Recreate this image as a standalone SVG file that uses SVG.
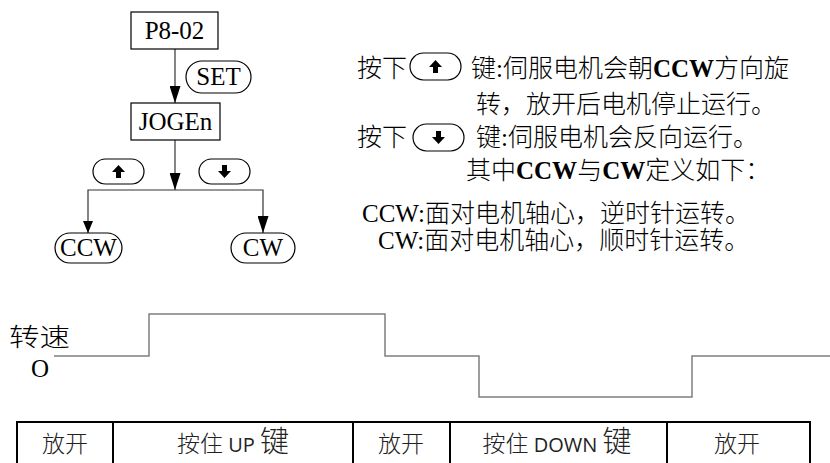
<svg xmlns="http://www.w3.org/2000/svg" width="830" height="463" viewBox="0 0 830 463">
<defs>
<style>
.box{fill:#fff;stroke:#000;stroke-width:1.2}
.pill{fill:#fff;stroke:#000;stroke-width:1.2}
.lbl{font-family:"Liberation Serif","Times New Roman",serif;font-size:25px;fill:#000;text-anchor:middle}
.conn{fill:none;stroke:#333;stroke-width:1.2}
.txt{font-family:"Liberation Serif","Noto Sans CJK SC",serif;font-size:25px;fill:#000;font-weight:300}
.b{font-weight:bold}
.wave{fill:none;stroke:#7f7f7f;stroke-width:1.5}
.tbl{fill:none;stroke:#000;stroke-width:2}
.cell{font-family:"Noto Sans CJK SC",sans-serif;font-size:23px;fill:#222;text-anchor:middle;font-weight:300}
.key{font-size:29px}
.lat{font-family:"Open Sans","Noto Sans",sans-serif;font-size:20px;font-weight:400}
.icon{fill:#000}
</style>
<marker id="ah" markerUnits="userSpaceOnUse" viewBox="0 0 17 11" markerWidth="17" markerHeight="11" refX="17" refY="5.5" orient="auto">
<path d="M0,0 L17,5.5 L0,11 Z" fill="#000"/>
</marker>
<marker id="ahs" markerUnits="userSpaceOnUse" viewBox="0 0 12 10" markerWidth="12" markerHeight="10" refX="12" refY="5" orient="auto">
<path d="M0,0 L12,5 L0,10 Z" fill="#000"/>
</marker>
<path id="up" class="icon" d="M0,-6.5 L6.5,0.5 L2.5,0.5 L2.5,6.5 L-2.5,6.5 L-2.5,0.5 L-6.5,0.5 Z"/>
<path id="down" class="icon" d="M0,6.5 L6.5,-0.5 L2.5,-0.5 L2.5,-6.5 L-2.5,-6.5 L-2.5,-0.5 L-6.5,-0.5 Z"/>
</defs>
<rect width="830" height="463" fill="#fff"/>

<g id="connectors">
<path class="conn" d="M175,49 V103" marker-end="url(#ah)"/>
<path class="conn" d="M175,140 V190" marker-end="url(#ah)"/>
<path class="conn" d="M175,190 H88 V233" marker-end="url(#ahs)"/>
<path class="conn" d="M175,190 H263 V233" marker-end="url(#ah)"/>
</g>

<g id="node-p802">
<rect class="box" x="131" y="12" width="87" height="37"/>
<text class="lbl" x="174.5" y="39">P8-02</text>
</g>
<g id="node-set">
<rect class="pill" x="186" y="61" width="65" height="32" rx="16"/>
<text class="lbl" x="218.5" y="85">SET</text>
</g>
<g id="node-jogen">
<rect class="box" x="131" y="103" width="89" height="37"/>
<text class="lbl" x="175.5" y="130">JOGEn</text>
</g>
<g id="node-upkey">
<rect class="pill" x="93" y="159" width="51" height="25" rx="12.5"/>
<use href="#up" x="118.5" y="171.5"/>
</g>
<g id="node-downkey">
<rect class="pill" x="199" y="159" width="51" height="25" rx="12.5"/>
<use href="#down" x="224.5" y="171.5"/>
</g>
<g id="node-ccw">
<rect class="pill" x="55" y="233" width="67" height="30" rx="15"/>
<text class="lbl" x="88.5" y="256">CCW</text>
</g>
<g id="node-cw">
<rect class="pill" x="231" y="233" width="64" height="30" rx="15"/>
<text class="lbl" x="263" y="256">CW</text>
</g>

<g id="description">
<text class="txt" x="357" y="77">按下</text>
<rect class="pill" x="410" y="53" width="51" height="27" rx="13.5"/>
<use href="#up" x="435.5" y="66.5"/>
<text class="txt" x="471" y="77">键:伺服电机会朝<tspan class="b">CCW</tspan>方向旋</text>
<text class="txt" x="476" y="113">转，放开后电机停止运行。</text>
<text class="txt" x="357" y="146">按下</text>
<rect class="pill" x="413" y="124" width="51" height="27" rx="13.5"/>
<use href="#down" x="438.5" y="137.5"/>
<text class="txt" x="476" y="146">键:伺服电机会反向运行。</text>
<text class="txt" x="466" y="179">其中<tspan class="b">CCW</tspan>与<tspan class="b">CW</tspan>定义如下：</text>
<text class="txt" x="362" y="222">CCW:面对电机轴心，逆时针运转。</text>
<text class="txt" x="378" y="249">CW:面对电机轴心，顺时针运转。</text>
</g>

<g id="speed-chart">
<text class="txt" x="9" y="346" font-family="Noto Sans CJK SC, sans-serif" textLength="61" lengthAdjust="spacingAndGlyphs">转速</text>
<text class="lbl" x="40" y="377" font-size="23">O</text>
<path class="wave" d="M54,356 H149 V314 H385 V356 H479 V397 H692 V356 H830"/>
</g>

<g id="key-table">
<path class="tbl" d="M17,475 V422 H810 V475 M113,422 V475 M353,422 V475 M450,422 V475 M667,422 V475"/>
<text class="cell" x="65" y="452">放开</text>
<text class="cell" x="233" y="452">按住 <tspan class="lat">UP</tspan> <tspan class="key">键</tspan></text>
<text class="cell" x="401" y="452">放开</text>
<text class="cell" x="557" y="452">按住 <tspan class="lat">DOWN</tspan> <tspan class="key">键</tspan></text>
<text class="cell" x="737" y="452">放开</text>
</g>
</svg>
